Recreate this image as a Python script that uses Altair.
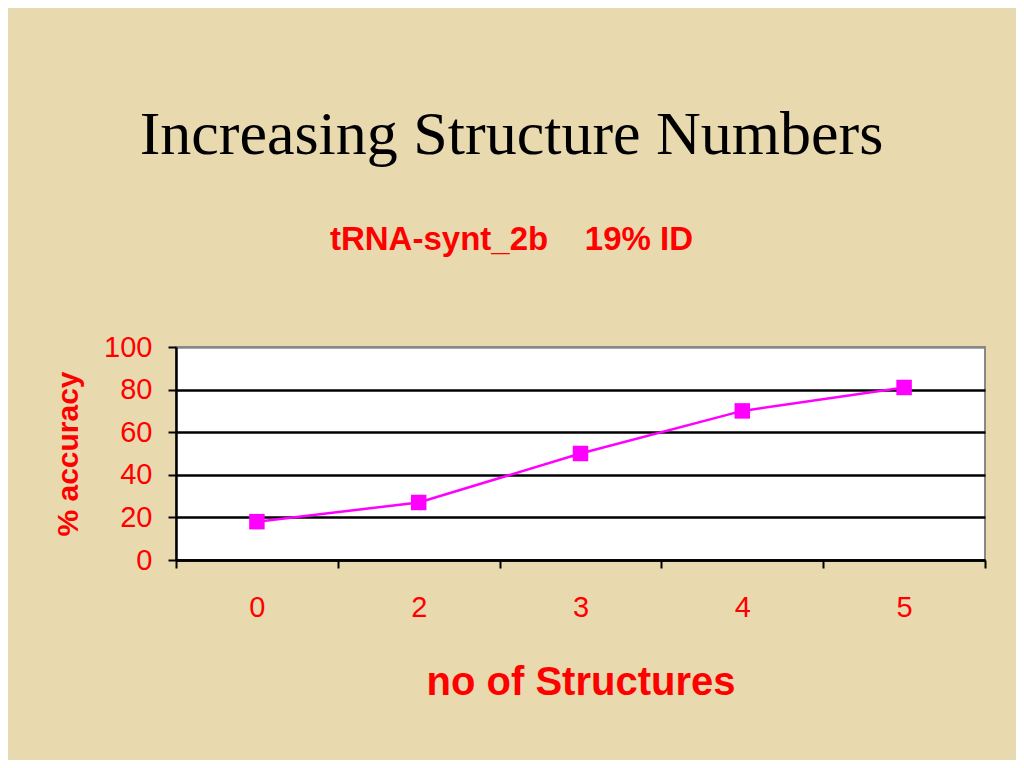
import altair as alt
import pandas as pd

structures = ["0", "2", "3", "4", "5"]
accuracy = [18, 27, 50, 70, 81]

df = pd.DataFrame({"structures": structures, "accuracy": accuracy})

RED = "#ff0000"
MAG = "#ff00ff"
BG = "#e8d9ae"

line = alt.Chart(df).mark_line(
    color=MAG, strokeWidth=2.5,
    point=alt.OverlayMarkDef(shape="square", size=240, filled=True, color=MAG, opacity=1),
).encode(
    x=alt.X("structures:N", sort=structures,
            scale=alt.Scale(type="band", paddingInner=0, paddingOuter=0),
            axis=alt.Axis(title="no of Structures", labelAngle=0, tickBand="extent",
                          labelFont="Liberation Sans", labelFontSize=29, labelColor=RED,
                          labelPadding=25, tickSize=8, tickWidth=2, tickColor="black",
                          domainColor="black", domainWidth=2.5, grid=False,
                          titleFont="Liberation Sans", titleFontSize=40, titleFontWeight="bold",
                          titleColor=RED, titlePadding=40)),
    y=alt.Y("accuracy:Q",
            scale=alt.Scale(domain=[0, 100], nice=False),
            axis=alt.Axis(title="% accuracy", values=[0, 20, 40, 60, 80, 100],
                          labelFont="Liberation Sans", labelFontSize=29, labelColor=RED,
                          labelPadding=16, tickSize=8, tickWidth=2, tickColor="black",
                          domainColor="black", domainWidth=2.5,
                          grid=True, gridWidth=2.5,
                          gridColor=alt.condition("datum.value >= 100", alt.value("#888888"), alt.value("black")),
                          titleFont="Liberation Sans", titleFontSize=30, titleFontWeight="bold",
                          titleColor=RED, titlePadding=20)),
)

chart = line.properties(
    width=809,
    height=213,
    autosize=alt.AutoSizeParams(type="none"),
    padding={"left": 168, "top": 339, "right": 31, "bottom": 200},
    background=BG,
    title=alt.TitleParams(
        text="Increasing Structure Numbers",
        subtitle="tRNA-synt_2b\u00a0\u00a0\u00a0\u00a019% ID",
        font="Liberation Serif", fontSize=62, fontWeight="normal", color="black",
        subtitleFont="Liberation Sans", subtitleFontSize=33, subtitleFontWeight="bold",
        subtitleColor=RED, subtitlePadding=57,
        anchor="middle", frame="group", dx=-69, offset=75,
    ),
).configure_view(
    fill="white", stroke="#888888", strokeWidth=2
)

chart.save("out.html", embed_options={"renderer": "svg", "actions": False})
